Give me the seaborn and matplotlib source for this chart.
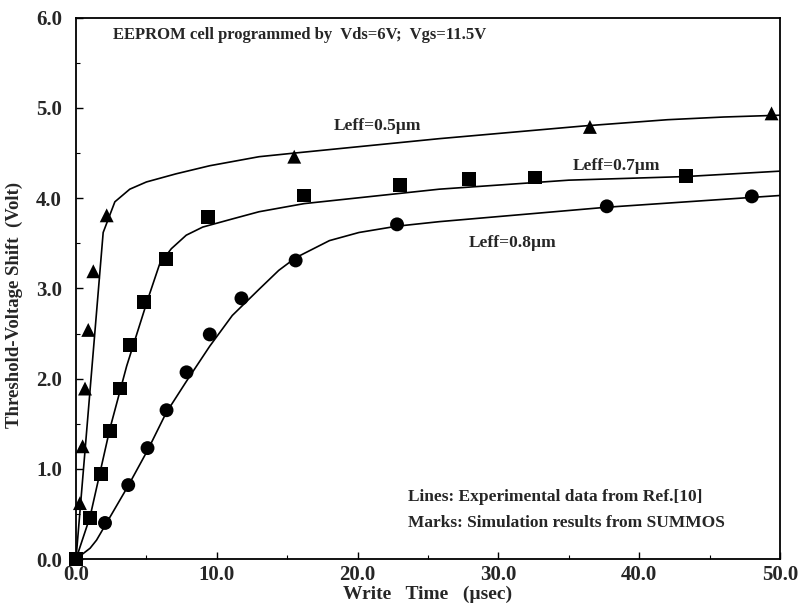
import matplotlib
matplotlib.use("Agg")
import matplotlib.pyplot as plt
import seaborn as sns
import pandas as pd
from matplotlib.ticker import MultipleLocator

# ---- experimental curves (lines) ----
line05_x = [0.0, 1.93, 2.76, 3.82, 5.0, 7.1, 9.5, 13.0, 15.5, 25.8, 36.0, 42.0, 46.0, 50.0]
line05_y = [0.0, 3.62, 3.96, 4.10, 4.18, 4.27, 4.36, 4.46, 4.50, 4.66, 4.80, 4.87, 4.90, 4.92]

line07_x = [0.0, 1.0, 2.4, 3.6, 5.1, 5.94, 6.77, 7.83, 9.0, 11.1, 13.0, 16.2, 25.8, 35.0, 43.3, 50.0]
line07_y = [0.0, 0.47, 1.44, 2.14, 2.88, 3.27, 3.44, 3.59, 3.68, 3.77, 3.85, 3.94, 4.10, 4.20, 4.24, 4.30]

line08_x = [0.0, 1.0, 1.46, 2.17, 3.7, 5.1, 6.4, 7.8, 9.5, 11.1, 13.0, 14.4, 15.6, 18.0, 20.1, 22.8, 25.8, 37.7, 50.0]
line08_y = [0.0, 0.12, 0.21, 0.40, 0.81, 1.21, 1.62, 1.96, 2.36, 2.70, 2.99, 3.20, 3.34, 3.53, 3.62, 3.69, 3.74, 3.90, 4.03]

# ---- simulation results (marks) ----
tri_x = [0.0, 0.28, 0.47, 0.64, 0.87, 1.23, 2.18, 15.5, 36.5, 49.4]
tri_y = [0.0, 0.62, 1.25, 1.89, 2.54, 3.19, 3.81, 4.46, 4.79, 4.94]

sq_x = [0.0, 0.99, 1.75, 2.41, 3.12, 3.83, 4.85, 6.38, 9.38, 16.2, 23.0, 27.9, 32.6, 43.3]
sq_y = [0.0, 0.46, 0.94, 1.42, 1.89, 2.37, 2.85, 3.33, 3.79, 4.03, 4.15, 4.21, 4.23, 4.25]

circ_x = [0.0, 2.06, 3.71, 5.08, 6.43, 7.85, 9.5, 11.75, 15.6, 22.8, 37.7, 48.0]
circ_y = [0.0, 0.40, 0.82, 1.23, 1.65, 2.07, 2.49, 2.89, 3.31, 3.71, 3.91, 4.02]

labels = ["Leff=0.5\u00b5m", "Leff=0.7\u00b5m", "Leff=0.8\u00b5m"]
x_ticks = [0, 10, 20, 30, 40, 50]
y_ticks = [0, 1, 2, 3, 4, 5, 6]

sns.set_theme(style="white")
plt.rcParams['font.family'] = ['Liberation Serif', 'DejaVu Serif']
plt.rcParams['font.weight'] = 'bold'
plt.rcParams['axes.labelweight'] = 'bold'

lines_df = pd.concat([
    pd.DataFrame({"x": line05_x, "y": line05_y, "s": labels[0]}),
    pd.DataFrame({"x": line07_x, "y": line07_y, "s": labels[1]}),
    pd.DataFrame({"x": line08_x, "y": line08_y, "s": labels[2]}),
], ignore_index=True)

marks_df = pd.concat([
    pd.DataFrame({"x": tri_x, "y": tri_y, "s": labels[0]}),
    pd.DataFrame({"x": sq_x, "y": sq_y, "s": labels[1]}),
    pd.DataFrame({"x": circ_x, "y": circ_y, "s": labels[2]}),
], ignore_index=True)

fig = plt.figure(figsize=(8.0, 6.13), dpi=100)
ax = fig.add_axes([0.095, 0.088, 0.88, 0.883])

sns.lineplot(data=lines_df, x="x", y="y", units="s", estimator=None, sort=False,
             color="black", linewidth=1.2, ax=ax, legend=False)
sns.scatterplot(data=marks_df, x="x", y="y", style="s",
                markers={labels[0]: "^", labels[1]: "s", labels[2]: "o"},
                color="black", s=100, edgecolor="black", linewidth=0,
                ax=ax, legend=False, zorder=3, clip_on=False)

ax.set_xlim(0, 50)
ax.set_ylim(0, 6)
ax.set_xticks(x_ticks)
ax.set_yticks(y_ticks)
ax.set_xticklabels([f"{v:.1f}" for v in x_ticks], fontsize=15, fontweight='bold')
ax.set_yticklabels([f"{v:.1f}" for v in y_ticks], fontsize=15, fontweight='bold')
ax.xaxis.set_minor_locator(MultipleLocator(5))
ax.yaxis.set_minor_locator(MultipleLocator(0.5))
ax.tick_params(which='both', direction='in', color='black', top=False, right=False,
               bottom=True, left=True)
ax.tick_params(which='major', length=5, width=1)
ax.tick_params(axis='x', which='major', pad=4)
ax.tick_params(axis='y', which='major', pad=10)
ax.tick_params(which='minor', length=3, width=0.8)
for sp in ax.spines.values():
    sp.set_color('black')
    sp.set_linewidth(1.3)

ax.set_xlabel("Write   Time   (\u00b5sec)", fontsize=14, fontweight='bold')
ax.xaxis.set_label_coords(0.5, -0.05)
ax.set_ylabel("Threshold-Voltage Shift  (Volt)", fontsize=13.5, fontweight='bold')
ax.yaxis.set_label_coords(-0.075, 0.47)

ax.text(2.6, 5.81, "EEPROM cell programmed by  Vds=6V;  Vgs=11.5V",
        fontsize=12, fontweight='bold', va='center', ha='left')
ax.text(21.4, 4.80, labels[0], fontsize=12.5, fontweight='bold', ha='center', va='center')
ax.text(38.4, 4.36, labels[1], fontsize=12.5, fontweight='bold', ha='center', va='center')
ax.text(31.0, 3.50, labels[2], fontsize=12.5, fontweight='bold', ha='center', va='center')
ax.text(23.6, 0.69, "Lines: Experimental data from Ref.[10]",
        fontsize=12.5, fontweight='bold', ha='left', va='center')
ax.text(23.6, 0.40, "Marks: Simulation results from SUMMOS",
        fontsize=12.5, fontweight='bold', ha='left', va='center')

fig.savefig("out.png", dpi=100)
